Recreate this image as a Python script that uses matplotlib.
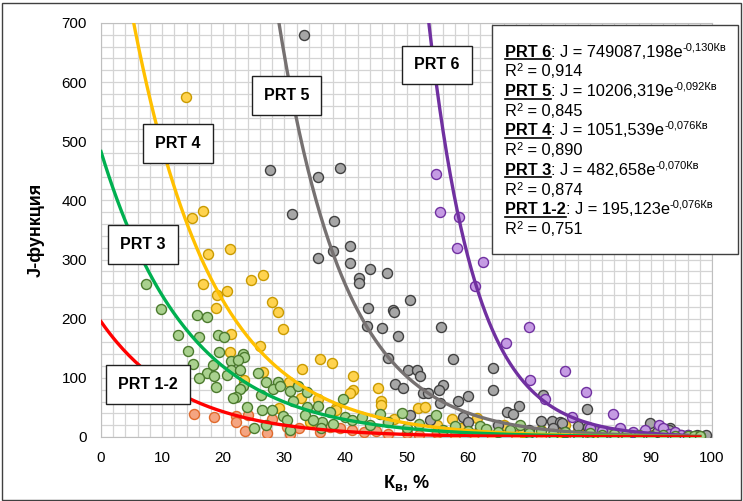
import matplotlib
matplotlib.use("Agg")
import matplotlib.pyplot as plt
import numpy as np
from matplotlib.patches import Rectangle
from matplotlib.lines import Line2D

plt.rcParams['font.family'] = ['Liberation Sans', 'DejaVu Sans']

# --- data -----------------------------------------------------------------
series_names = ["PRT 1-2", "PRT 3", "PRT 4", "PRT 5", "PRT 6"]

# fitted trends J = a * exp(b * Kв)
fit_a = [195.123, 482.658, 1051.539, 10206.319, 749087.198]
fit_b = [-0.076, -0.070, -0.076, -0.092, -0.130]
fit_r2 = [0.751, 0.874, 0.890, 0.845, 0.914]
fit_range = [(0, 98), (0, 98), (5, 98), (29, 98), (53, 96)]

kv_12 = [15.2, 18.5, 22.1, 22.1, 24.1, 28, 30.4, 32.4, 34.4, 35.8, 37.5, 39.1,
         23.6, 27.2, 31, 41, 43, 45, 47, 50, 52, 55, 58, 61, 64, 68, 72, 76, 80, 85, 90, 95]
j_12 = [39, 34, 36, 25, 37, 30, 17, 15, 24, 8, 17, 15,
        10, 6, 5, 12, 8, 10, 5, 7, 4, 6, 3, 5, 2, 3, 2, 2, 1, 1, 1, 1]

kv_3 = [7.4, 9.8, 15.7, 17.4, 12.6, 16.0, 19.2, 20.1, 14.2, 19.3, 23.2, 23.4, 21.3, 22.4,
        15.1, 18.3, 21.3, 22.7, 17.3, 18.5, 16.0, 20.6, 18.8, 23.2, 25.7, 27.0, 29.0, 22.7,
        22.1, 21.6, 26.2, 28.2, 29.3, 30.9, 32.2, 23.9, 26.3, 28.0, 29.8, 31.4, 33.7, 35.5,
        37.5, 33.4, 36.2, 34.7, 30.4, 33.7, 39.6, 39.9, 42.7, 45.7, 49.3, 54.8, 62, 68.6,
        25, 27, 31, 36, 38, 41, 44, 47, 50, 52, 56, 58, 60, 63, 65, 67, 70, 72, 74, 76,
        78, 80, 82, 84, 86, 88, 90, 92, 94, 96, 97, 98]
j_3 = [259, 216, 206, 203, 172, 169, 172, 169, 146, 143, 140, 135, 128, 130,
       123, 122, 113, 113, 108, 103, 100, 105, 85, 86, 108, 93, 93, 81,
       68, 66, 71, 81, 86, 78, 86, 51, 46, 46, 36, 61, 51, 52,
       42, 37, 25, 29, 29, 76, 64, 34, 34, 39, 40, 37, 19, 20,
       15, 20, 12, 15, 22, 28, 20, 25, 15, 22, 12, 18, 10, 14, 8, 12, 6, 10, 5, 8,
       4, 6, 3, 5, 3, 4, 2, 3, 2, 2, 2, 2]

kv_4 = [13.9, 14.9, 16.7, 17.5, 21.1, 16.7, 19.0, 20.6, 24.5, 26.5, 28.0, 18.8, 29.0,
        29.8, 21.3, 21.1, 26.0, 26.5, 23.4, 32.9, 35.8, 37.8, 30.8, 32.7, 35.5, 29.1,
        38.5, 34.2, 41.2, 45.3, 41.2, 40.8, 45.8, 45.8, 51.9, 53.0, 38.5, 57.4, 61.5,
        48, 55, 59, 63, 66, 69, 72, 75, 76, 78, 81, 84, 87, 90, 93, 96]
j_4 = [575, 370, 382, 309, 318, 259, 240, 247, 265, 274, 228, 218, 212,
       183, 174, 144, 154, 110, 96, 115, 132, 125, 93, 66, 64, 49,
       49, 25, 103, 83, 80, 74, 61, 54, 49, 51, 46, 30, 32,
       30, 20, 15, 12, 20, 8, 12, 6, 20, 10, 4, 6, 3, 4, 2, 2]

kv_5 = [33.2, 27.7, 39.1, 35.5, 31.3, 38.1, 38.0, 40.8, 35.5, 40.8, 44.0, 46.8, 42.2,
        42.2, 50.6, 43.7, 47.8, 48.0, 43.5, 46.0, 55.6, 48.6, 47.0, 57.6, 50.2, 51.7,
        52.2, 48.1, 49.4, 52.7, 53.5, 56.0, 55.3, 55.5, 58.4, 60.0, 64.2, 64.2, 66.4,
        67.4, 68.4, 59.2, 53.8, 72.0, 50.6, 72.3, 79.5, 73.8, 75.1, 78.0, 79.7, 89.9,
        93.1, 97.5, 99.0, 75.4, 60, 62, 65, 70, 74, 76, 81, 83, 85, 87, 91, 93, 95, 96, 98]
j_5 = [680, 451, 455, 440, 377, 365, 314, 323, 303, 294, 284, 277, 269,
       260, 232, 218, 214, 211, 188, 184, 186, 171, 134, 132, 113, 113,
       103, 90, 83, 74, 74, 88, 79, 57, 61, 69, 117, 79, 42,
       39, 52, 33, 29, 27, 37, 71, 47, 27, 25, 19, 17, 24,
       15, 3, 3, 24, 25, 15, 20, 12, 15, 8, 10, 6, 12, 5, 8, 12, 3, 4, 2]

kv_6 = [54.8, 55.5, 58.6, 58.3, 62.5, 61.2, 66.3, 70.0, 70.2, 75.9, 72.7, 79.4, 77.1,
        83.8, 91.3, 92.0, 80, 82, 85, 87, 89, 93, 94, 95, 96]
j_6 = [445, 380, 372, 320, 296, 255, 159, 186, 96, 112, 64, 76, 34,
       39, 20, 15, 15, 10, 15, 8, 12, 5, 8, 4, 3]

kv_points = [kv_12, kv_3, kv_4, kv_5, kv_6]
j_points = [j_12, j_3, j_4, j_5, j_6]

line_colors = ["#FF0000", "#00B050", "#FFC000", "#767171", "#7030A0"]
face_colors = ["#F4A582", "#A9D18E", "#FFD34F", "#A6A6A6", "#C59BE3"]
edge_colors = ["#E06A2C", "#4B7A2D", "#C99A00", "#404040", "#7030A0"]

# label box positions in data units (Kв, J)
label_pos = [(7.7, 88), (6.9, 325), (12.6, 497), (30.4, 578), (55.0, 629)]

# --- figure ---------------------------------------------------------------
W, H = 743, 501
fig = plt.figure(figsize=(W / 100, H / 100), dpi=100)
ax = fig.add_axes([101 / W, 1 - 437 / H, (712 - 101) / W, (437 - 23) / H])

ax.set_xlim(0, 100)
ax.set_ylim(0, 700)
ax.set_xticks(np.arange(0, 101, 10))
ax.set_yticks(np.arange(0, 701, 100))
ax.set_xticks(np.arange(0, 101, 2), minor=True)
ax.set_yticks(np.arange(0, 701, 20), minor=True)
ax.grid(True, which='both', color='#D4D4D4', lw=0.9)
ax.set_axisbelow(True)
ax.tick_params(which='both', length=0, labelsize=11, pad=10)
for s in ax.spines.values():
    s.set_color('#BFBFBF')

# scatter points
for i in [0, 2, 3, 4, 1]:
    ax.scatter(kv_points[i], j_points[i], s=52, c=face_colors[i],
               edgecolors=edge_colors[i], linewidths=1.0, zorder=3)

# trend lines
for i in [4, 3, 2, 1, 0]:
    xs = np.linspace(fit_range[i][0], fit_range[i][1], 300)
    ax.plot(xs, fit_a[i] * np.exp(fit_b[i] * xs), color=line_colors[i], lw=2.4,
            zorder=4, clip_on=True)

# series label boxes
for name, (lx, ly) in zip(series_names, label_pos):
    ax.text(lx, ly, name, ha='center', va='center', fontsize=11.5, fontweight='bold',
            zorder=6, bbox=dict(boxstyle='square,pad=0.75', fc='white', ec='#202020', lw=1))

ax.set_ylabel('J-функция', fontsize=13, fontweight='bold', labelpad=12)
ax.set_xlabel(r'К$\mathregular{_в}$, %', fontsize=13, fontweight='bold', labelpad=6)

# outer frame
fig.patches.append(Rectangle((2 / W, 1 / H), (W - 4) / W, (H - 4) / H,
                             transform=fig.transFigure, fill=False,
                             ec='#404040', lw=1))

# equation box
fig.patches.append(Rectangle((492 / W, 1 - 254 / H), (738 - 492) / W, (254 - 25) / H,
                             transform=fig.transFigure, fc='white', ec='#404040',
                             lw=1, zorder=5))

fig.canvas.draw()
renderer = fig.canvas.get_renderer()


def fmt(v, nd=3):
    return f"{v:.{nd}f}".replace('.', ',')


def put_after(prev, text, y, size=11.8, rise=0.0):
    bb = prev.get_window_extent(renderer)
    t = fig.text(bb.x1 / W, y + rise / H, text, fontsize=size, va='baseline', zorder=7)
    return t


x0 = 505
base = 56.7
step = 19.7
row = 0
for i in [4, 3, 2, 1, 0]:
    y = 1 - (base + step * row) / H
    t1 = fig.text(x0 / W, y, series_names[i], fontsize=11.8, fontweight='bold',
                  va='baseline', zorder=7)
    bb = t1.get_window_extent(renderer)
    fig.add_artist(Line2D([bb.x0 / W, bb.x1 / W], [y - 2.5 / H, y - 2.5 / H],
                          color='black', lw=1.2, zorder=7))
    t2 = put_after(t1, ": J = " + fmt(fit_a[i]) + "e", y)
    put_after(t2, fmt(fit_b[i]) + "Кв", y, size=8, rise=6.5)
    row += 1
    y = 1 - (base + step * row) / H
    t3 = fig.text(x0 / W, y, "R", fontsize=11.8, va='baseline', zorder=7)
    t4 = put_after(t3, "2", y, size=8, rise=5)
    put_after(t4, " = " + fmt(fit_r2[i]), y)
    row += 1

fig.savefig('out.png', dpi=100)
